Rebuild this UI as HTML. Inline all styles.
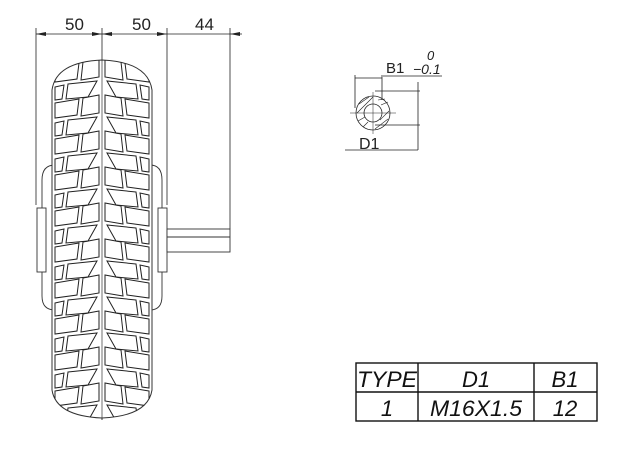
<!DOCTYPE html>
<html><head><style>body{margin:0;background:#fff}svg{display:block}</style></head><body>
<svg width="638" height="450" viewBox="0 0 638 450" xmlns="http://www.w3.org/2000/svg" font-family="Liberation Sans, sans-serif">
<defs>
<g id="half" fill="none" stroke="#222" stroke-width="1">
  <path d="M55,3 L79,-1 L77,15 L55,18 Z"/>
  <path d="M83,-2 L99,-5 L99,13 L81,16 Z"/>
  <path d="M55,23 L64,21 L62,35 L55,36 Z"/>
  <path d="M68,20 L97,17 L88,33 L66,35 Z"/>
</g>
<g id="period"><use href="#half"/><use href="#half" transform="translate(204,0) scale(-1,1)"/></g>
<clipPath id="tc"><path d="M52,90 Q56,62 102,60 Q148,62 152,90 L152,390 Q148,416 102,418 Q56,416 52,390 Z"/></clipPath>
</defs>
<g stroke="#222" stroke-width="0.8" fill="none">
  <line x1="36" y1="28" x2="36" y2="205"/>
  <line x1="102" y1="28" x2="102" y2="420"/>
  <line x1="167" y1="28" x2="167" y2="205"/>
  <line x1="230" y1="28" x2="230" y2="229"/>
  <line x1="36" y1="34" x2="167" y2="34"/>
  <line x1="167" y1="34" x2="242" y2="34"/>
</g>
<g fill="#222">
  <path d="M36,34 l10,-2 v4z"/><path d="M102,34 l-10,-2 v4z"/><path d="M102,34 l10,-2 v4z"/>
  <path d="M167,34 l-10,-2 v4z"/><path d="M230,34 l10,-2 v4z"/>
</g>
<g font-size="17" fill="#222">
  <text x="65" y="30">50</text><text x="132" y="30">50</text><text x="195" y="30">44</text>
</g>
<g stroke="#333" stroke-width="0.9" fill="#fff">
  <path d="M42,180 Q42,165 55,165 L150,165 Q162,165 162,180 L162,296 Q162,310 150,310 L55,310 Q42,310 42,296 Z"/>
  <rect x="37" y="208" width="9" height="64"/>
  <rect x="158" y="208" width="9" height="64"/>
  <rect x="167" y="229" width="63" height="23"/>
  <line x1="167" y1="237" x2="230" y2="237"/>
</g>
<path d="M52,90 Q56,62 102,60 Q148,62 152,90 L152,390 Q148,416 102,418 Q56,416 52,390 Z" fill="#fff" stroke="#333" stroke-width="1"/>
<g clip-path="url(#tc)">
  <use href="#period" y="64"/><use href="#period" y="100"/><use href="#period" y="136"/>
  <use href="#period" y="172"/><use href="#period" y="208"/><use href="#period" y="244"/>
  <use href="#period" y="280"/><use href="#period" y="316"/><use href="#period" y="352"/>
  <use href="#period" y="388"/>
</g>
<line x1="102" y1="60" x2="102" y2="420" stroke="#333" stroke-width="0.7"/>
<g stroke="#222" stroke-width="0.8" fill="none">
  <line x1="355" y1="75" x2="355" y2="108"/><line x1="382" y1="75" x2="382" y2="100"/>
  <line x1="355" y1="78" x2="382" y2="78"/>
  <line x1="383" y1="76" x2="442" y2="76"/>
  <line x1="375" y1="91" x2="420" y2="91"/><line x1="375" y1="125" x2="420" y2="125"/>
  <line x1="418" y1="82" x2="418" y2="150"/>
  <line x1="345" y1="150" x2="418" y2="150"/>
  <circle cx="373" cy="113" r="17"/>
  <circle cx="373" cy="113" r="9"/>
  <line x1="350" y1="113" x2="396" y2="113" stroke-width="0.5"/>
  <line x1="373" y1="92" x2="373" y2="134" stroke-width="0.5"/>
  <g stroke-width="0.6">
    <line x1="359" y1="104" x2="369" y2="97"/><line x1="357" y1="113" x2="373" y2="97"/>
    <line x1="378" y1="100" x2="385" y2="99"/><line x1="381" y1="105" x2="388" y2="102"/>
    <line x1="358" y1="121" x2="365" y2="117"/><line x1="363" y1="127" x2="368" y2="122"/>
    <line x1="380" y1="120" x2="389" y2="111"/><line x1="375" y1="129" x2="388" y2="119"/>
  </g>
</g>
<g fill="#222" font-size="15">
  <text x="386" y="73">B1</text>
  <text x="427" y="60" font-style="italic" font-size="13">0</text>
  <text x="413" y="74" font-style="italic" font-size="14">−0.1</text>
  <text x="359" y="149" font-size="16">D1</text>
</g>
<g stroke="#111" stroke-width="1.4" fill="none">
  <rect x="356" y="363" width="241" height="58"/>
  <line x1="356" y1="392" x2="597" y2="392"/>
  <line x1="418" y1="363" x2="418" y2="421"/>
  <line x1="534" y1="363" x2="534" y2="421"/>
</g>
<g font-style="italic" font-size="22" fill="#111" text-anchor="middle">
  <text x="387" y="387" textLength="60" lengthAdjust="spacingAndGlyphs">TYPE</text>
  <text x="476" y="387">D1</text>
  <text x="565" y="387">B1</text>
  <text x="387" y="416">1</text>
  <text x="476" y="416" textLength="92" lengthAdjust="spacingAndGlyphs">M16X1.5</text>
  <text x="565" y="416">12</text>
</g>
</svg>
</body></html>
